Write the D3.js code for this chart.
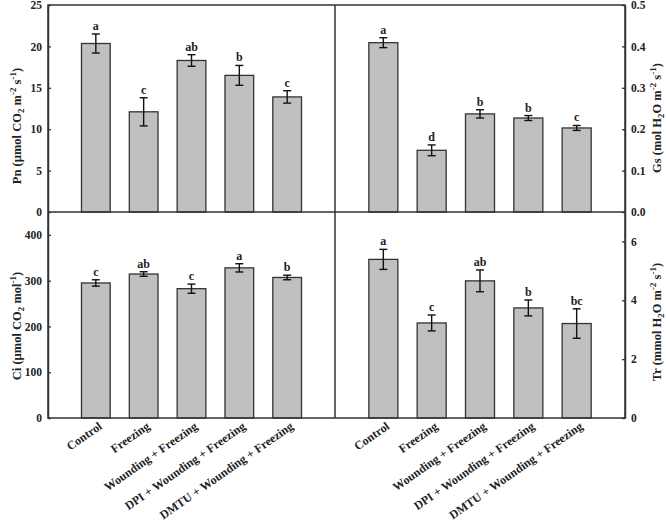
<!DOCTYPE html>
<html>
<head>
<meta charset="utf-8">
<script src="https://cdn.jsdelivr.net/npm/d3@7"></script>
<style>
  html, body { margin: 0; padding: 0; background: #fff; }
  svg { display: block; }
  text { font-family: "Liberation Serif", "Times New Roman", serif; font-weight: bold; fill: #222; }
</style>
</head>
<body>
<svg id="chart" width="666" height="521"></svg>
<script>
// ---- data ----
const categories = ["Control", "Freezing", "Wounding + Freezing", "DPI + Wounding + Freezing", "DMTU + Wounding + Freezing"];

const pnValues = [20.35, 12.1, 18.3, 16.5, 13.9];
const pnErrors = [1.15, 1.7, 0.7, 1.2, 0.75];
const pnLetters = ["a", "c", "ab", "b", "c"];
const pnTicks = [0, 5, 10, 15, 20, 25];

const gsValues = [0.409, 0.149, 0.237, 0.227, 0.203];
const gsErrors = [0.012, 0.013, 0.010, 0.006, 0.006];
const gsLetters = ["a", "d", "b", "b", "c"];
const gsTicks = [0, 0.1, 0.2, 0.3, 0.4, 0.5];

const ciValues = [295, 314.5, 282.5, 328, 307];
const ciErrors = [7, 5, 10, 9, 5];
const ciLetters = ["c", "ab", "c", "a", "b"];
const ciTicks = [0, 100, 200, 300, 400];

const trValues = [5.39, 3.23, 4.66, 3.74, 3.21];
const trErrors = [0.34, 0.27, 0.37, 0.27, 0.5];
const trLetters = ["a", "c", "ab", "b", "bc"];
const trTicks = [0, 2, 4, 6];

// ---- layout ----
const svg = d3.select("#chart");
const L = 48, M = 335, R = 625, T = 5, MY = 212, B = 418;
const axisColor = "#333";

const xLeft = d3.scaleBand().domain(categories).range([L, M]).paddingInner(0.4).paddingOuter(0.7);
const xRight = d3.scaleBand().domain(categories).range([M, R]).paddingInner(0.4).paddingOuter(0.7);

const yPn = d3.scaleLinear().domain([0, 25]).range([MY, T]);
const yGs = d3.scaleLinear().domain([0, 0.5]).range([MY, T]);
const yCi = d3.scaleLinear().domain([0, 450]).range([B, MY]);
const yTr = d3.scaleLinear().domain([0, 7]).range([B, MY]);

function panel(x, y, values, errors, letters) {
  const g = svg.append("g");
  const bw = x.bandwidth();
  categories.forEach((c, i) => {
    const x0 = x(c);
    const cx = x0 + bw / 2;
    g.append("rect")
      .attr("x", x0).attr("y", y(values[i]))
      .attr("width", bw).attr("height", y(0) - y(values[i]))
      .attr("fill", "#c0c0c0").attr("stroke", "#333").attr("stroke-width", 1.3);
    const yt = y(values[i] + errors[i]), yb = y(values[i] - errors[i]);
    const cap = 4;
    g.append("line").attr("x1", cx).attr("x2", cx).attr("y1", yt).attr("y2", yb)
      .attr("stroke", "#111").attr("stroke-width", 1.4);
    [yt, yb].forEach(yy => g.append("line").attr("x1", cx - cap).attr("x2", cx + cap)
      .attr("y1", yy).attr("y2", yy).attr("stroke", "#111").attr("stroke-width", 1.4));
    g.append("text").attr("x", cx).attr("y", yt - 4).attr("text-anchor", "middle")
      .attr("font-size", 12).text(letters[i]);
  });
}

panel(xLeft, yPn, pnValues, pnErrors, pnLetters);
panel(xRight, yGs, gsValues, gsErrors, gsLetters);
panel(xLeft, yCi, ciValues, ciErrors, ciLetters);
panel(xRight, yTr, trValues, trErrors, trLetters);

// ---- axes ----
function styleAxis(g) {
  g.selectAll("path").attr("stroke", axisColor).attr("stroke-width", 1.5);
  g.selectAll("line").attr("stroke", axisColor).attr("stroke-width", 1.3);
  g.selectAll("text").attr("font-size", 11.5).attr("font-family", "Liberation Serif, serif")
    .attr("font-weight", "bold").attr("fill", "#222");
}
svg.append("g").attr("transform", `translate(${L},0)`)
  .call(d3.axisLeft(yPn).tickValues(pnTicks).tickSize(-3).tickPadding(6).tickSizeOuter(0).tickFormat(d3.format("d")))
  .call(styleAxis);
svg.append("g").attr("transform", `translate(${L},0)`)
  .call(d3.axisLeft(yCi).tickValues(ciTicks).tickSize(-3).tickPadding(6).tickSizeOuter(0).tickFormat(d3.format("d")))
  .call(styleAxis);
svg.append("g").attr("transform", `translate(${R},0)`)
  .call(d3.axisRight(yGs).tickValues(gsTicks).tickSize(-3).tickPadding(6).tickSizeOuter(0).tickFormat(d3.format(".1f")))
  .call(styleAxis);
svg.append("g").attr("transform", `translate(${R},0)`)
  .call(d3.axisRight(yTr).tickValues(trTicks).tickSize(-3).tickPadding(6).tickSizeOuter(0).tickFormat(d3.format("d")))
  .call(styleAxis);

// frame lines
const frame = svg.append("g").attr("stroke", axisColor).attr("stroke-width", 1.5).attr("fill", "none");
frame.append("rect").attr("x", L).attr("y", T).attr("width", R - L).attr("height", B - T);
frame.append("line").attr("x1", M).attr("x2", M).attr("y1", T).attr("y2", B);
frame.append("line").attr("x1", L).attr("x2", R).attr("y1", MY).attr("y2", MY);

// ---- x labels ----
[xLeft, xRight].forEach(x => {
  categories.forEach(c => {
    const cx = x(c) + x.bandwidth() / 2;
    svg.append("text")
      .attr("transform", `translate(${cx + 7},${428}) rotate(-35)`)
      .attr("text-anchor", "end").attr("font-size", 12).text(c);
  });
});

// ---- axis titles ----
function title(x, y, parts) {
  const t = svg.append("text").attr("transform", `translate(${x},${y}) rotate(-90)`)
    .attr("text-anchor", "middle").attr("font-size", 12.5);
  let shift = 0;
  parts.forEach(p => {
    const ts = t.append("tspan").text(p.t);
    let target = p.s === "sub" ? 3 : p.s === "sup" ? -5 : 0;
    ts.attr("dy", target - shift);
    shift = target;
    if (p.s) ts.attr("font-size", 9);
  });
}
title(21, 126, [{t: "Pn (µmol CO"}, {t: "2", s: "sub"}, {t: " m"}, {t: "-2", s: "sup"}, {t: " s"}, {t: "-1", s: "sup"}, {t: ")"}]);
title(21, 326, [{t: "Ci (µmol CO"}, {t: "2", s: "sub"}, {t: " mol"}, {t: "-1", s: "sup"}, {t: ")"}]);
title(661, 118, [{t: "Gs (mol H"}, {t: "2", s: "sub"}, {t: "O m"}, {t: "-2", s: "sup"}, {t: " s"}, {t: "-1", s: "sup"}, {t: ")"}]);
title(661, 322, [{t: "Tr (mmol H"}, {t: "2", s: "sub"}, {t: "O m"}, {t: "-2", s: "sup"}, {t: " s"}, {t: "-1", s: "sup"}, {t: ")"}]);
</script>
</body>
</html>
